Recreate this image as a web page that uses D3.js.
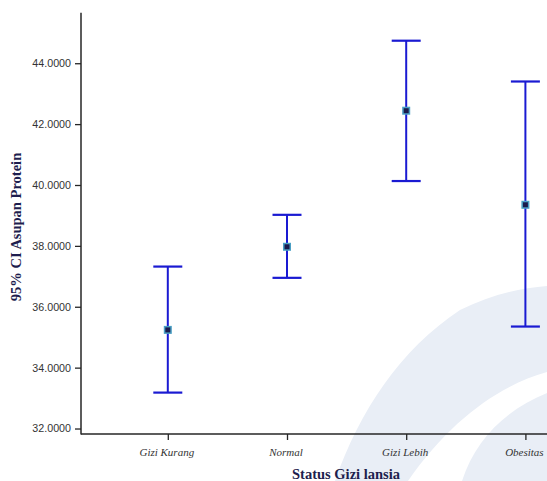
<!DOCTYPE html>
<html>
<head>
<meta charset="utf-8">
<script src="https://cdn.jsdelivr.net/npm/d3@7"></script>
<style>
  html, body { margin: 0; padding: 0; background: #ffffff; }
  svg { display: block; }
</style>
</head>
<body>
<svg id="chart" width="547" height="481"></svg>
<script>
// Status gizi categories and the 95% CI of protein intake for each group
const categories = ["Gizi Kurang", "Normal", "Gizi Lebih", "Obesitas"];
const means      = [35.24, 37.97, 42.44, 39.35];
const lowerCI    = [33.18, 36.95, 40.13, 35.35];
const upperCI    = [37.32, 39.02, 44.74, 43.40];
const yTicks     = [32, 34, 36, 38, 40, 42, 44];

const rows = categories.map((c, i) => ({ cat: c, mean: means[i], lo: lowerCI[i], hi: upperCI[i] }));

const W = 547, H = 481;
const svg = d3.select("#chart");

// faint background swoosh
const wm = svg.append("g").attr("fill", "#e9eef6");
wm.append("path")
  .attr("d", "M335,481 C360,410 400,350 460,310 C490,295 520,288 547,286 L547,372 C500,385 450,420 408,481 Z");
wm.append("path")
  .attr("d", "M462,481 C475,440 505,410 547,393 L547,481 Z");

const axisLeft = 81, axisRight = W, axisTop = 12.7, axisBottom = 434;

const y = d3.scaleLinear().domain([31.82, 45.66]).range([axisBottom, axisTop]);
const x = d3.scalePoint().domain(categories).range([167.8, 525.4]);

const ink = "#262626";

// y axis
const gy = svg.append("g").attr("transform", `translate(${axisLeft},0)`)
  .call(d3.axisLeft(y).tickValues(yTicks).tickFormat(d3.format(".4f")).tickSize(6).tickPadding(4));
gy.select(".domain").remove();
gy.selectAll(".tick line").attr("stroke", ink).attr("stroke-width", 1.3);
gy.selectAll(".tick text")
  .attr("fill", "#333")
  .attr("font-family", "Liberation Sans, Arial, sans-serif")
  .attr("font-size", 10.7);

// x axis
const gx = svg.append("g").attr("transform", `translate(0,${axisBottom})`)
  .call(d3.axisBottom(x).tickSize(6).tickPadding(8));
gx.select(".domain").remove();
gx.selectAll(".tick line").attr("stroke", ink).attr("stroke-width", 1.3);
gx.selectAll(".tick text")
  .attr("fill", "#333")
  .attr("dx", -1.5)
  .attr("font-family", "Liberation Serif, Times New Roman, serif")
  .attr("font-style", "italic")
  .attr("font-size", 11);

// axis lines
svg.append("line").attr("x1", axisLeft).attr("x2", axisLeft)
  .attr("y1", axisTop).attr("y2", axisBottom + 0.6)
  .attr("stroke", ink).attr("stroke-width", 1.5);
svg.append("line").attr("x1", axisLeft).attr("x2", axisRight)
  .attr("y1", axisBottom).attr("y2", axisBottom)
  .attr("stroke", ink).attr("stroke-width", 1.5);

// axis titles
svg.append("text")
  .attr("x", 346).attr("y", 479)
  .attr("text-anchor", "middle")
  .attr("font-family", "Liberation Serif, Times New Roman, serif")
  .attr("font-weight", "bold").attr("font-size", 14.5)
  .attr("fill", "#1e1e4e")
  .text("Status Gizi lansia");
svg.append("text")
  .attr("transform", "translate(21,227) rotate(-90)")
  .attr("text-anchor", "middle")
  .attr("font-family", "Liberation Serif, Times New Roman, serif")
  .attr("font-weight", "bold").attr("font-size", 14.5)
  .attr("fill", "#1e1e4e")
  .text("95% CI Asupan Protein");

// error bars
const barColor = "#1a1ad2";
const capHalf = 14.5;
const bars = svg.append("g").selectAll("g").data(rows).join("g");
bars.append("line")
  .attr("x1", d => x(d.cat)).attr("x2", d => x(d.cat))
  .attr("y1", d => y(d.lo)).attr("y2", d => y(d.hi))
  .attr("stroke", barColor).attr("stroke-width", 2);
bars.append("line")
  .attr("x1", d => x(d.cat) - capHalf).attr("x2", d => x(d.cat) + capHalf)
  .attr("y1", d => y(d.hi)).attr("y2", d => y(d.hi))
  .attr("stroke", barColor).attr("stroke-width", 2.2);
bars.append("line")
  .attr("x1", d => x(d.cat) - capHalf).attr("x2", d => x(d.cat) + capHalf)
  .attr("y1", d => y(d.lo)).attr("y2", d => y(d.lo))
  .attr("stroke", barColor).attr("stroke-width", 2.2);

// mean markers
const s = 6.5;
bars.append("rect")
  .attr("x", d => x(d.cat) - s / 2).attr("y", d => y(d.mean) - s / 2)
  .attr("width", s).attr("height", s)
  .attr("fill", "#1b1b4d")
  .attr("stroke", "#4a9fc4").attr("stroke-width", 1.5);
</script>
</body>
</html>
